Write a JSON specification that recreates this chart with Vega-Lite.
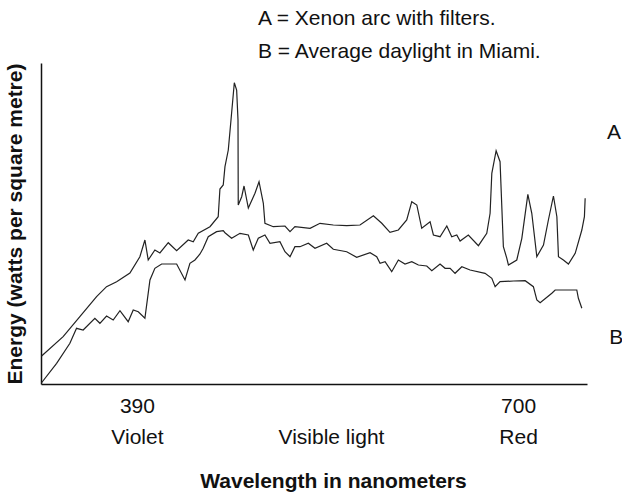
{
  "$schema": "https://vega.github.io/schema/vega-lite/v6.json",
  "width": 546,
  "height": 321,
  "autosize": "none",
  "padding": {"left": 41, "top": 63, "right": 35, "bottom": 112},
  "background": "white",
  "config": {"view": {"stroke": null}, "font": "Liberation Sans"},
  "title": {
    "text": ["A = Xenon arc with filters.", "B = Average daylight in Miami."],
    "anchor": "start",
    "frame": "group",
    "dx": 217,
    "offset": 1,
    "fontSize": 21,
    "fontWeight": "normal",
    "lineHeight": 33,
    "color": "#111"
  },
  "datasets": {
    "curves": [
      {"s": "A", "nm": 312.5, "e": 28},
      {"s": "A", "nm": 330.0, "e": 47.3},
      {"s": "A", "nm": 343.6, "e": 67.3},
      {"s": "A", "nm": 357.2, "e": 87.3},
      {"s": "A", "nm": 365.3, "e": 97.3},
      {"s": "A", "nm": 373.5, "e": 102.3},
      {"s": "A", "nm": 384.3, "e": 111},
      {"s": "A", "nm": 392.4, "e": 127.3},
      {"s": "A", "nm": 396.5, "e": 144},
      {"s": "A", "nm": 399.2, "e": 124},
      {"s": "A", "nm": 404.6, "e": 134},
      {"s": "A", "nm": 408.7, "e": 131},
      {"s": "A", "nm": 415.5, "e": 141.3},
      {"s": "A", "nm": 422.3, "e": 133.3},
      {"s": "A", "nm": 431.7, "e": 144},
      {"s": "A", "nm": 435.8, "e": 142.3},
      {"s": "A", "nm": 439.9, "e": 150.7},
      {"s": "A", "nm": 449.4, "e": 157.3},
      {"s": "A", "nm": 456.1, "e": 167.3},
      {"s": "A", "nm": 457.5, "e": 195},
      {"s": "A", "nm": 460.2, "e": 199},
      {"s": "A", "nm": 461.6, "e": 217.3},
      {"s": "A", "nm": 464.3, "e": 234},
      {"s": "A", "nm": 466.5, "e": 264},
      {"s": "A", "nm": 469.2, "e": 301.3},
      {"s": "A", "nm": 471.1, "e": 294},
      {"s": "A", "nm": 472.2, "e": 264},
      {"s": "A", "nm": 472.4, "e": 179},
      {"s": "A", "nm": 475.2, "e": 187.3},
      {"s": "A", "nm": 477.1, "e": 198},
      {"s": "A", "nm": 480.6, "e": 176},
      {"s": "A", "nm": 486.0, "e": 190.7},
      {"s": "A", "nm": 489.3, "e": 202.3},
      {"s": "A", "nm": 492.8, "e": 180.7},
      {"s": "A", "nm": 494.1, "e": 160.7},
      {"s": "A", "nm": 500.9, "e": 157.3},
      {"s": "A", "nm": 510.4, "e": 158},
      {"s": "A", "nm": 514.5, "e": 152.3},
      {"s": "A", "nm": 518.5, "e": 157.3},
      {"s": "A", "nm": 530.8, "e": 155.7},
      {"s": "A", "nm": 538.9, "e": 160.7},
      {"s": "A", "nm": 549.7, "e": 159},
      {"s": "A", "nm": 560.6, "e": 158.3},
      {"s": "A", "nm": 571.4, "e": 159},
      {"s": "A", "nm": 582.3, "e": 168.3},
      {"s": "A", "nm": 589.1, "e": 160.7},
      {"s": "A", "nm": 595.8, "e": 151.7},
      {"s": "A", "nm": 602.6, "e": 154},
      {"s": "A", "nm": 609.4, "e": 164},
      {"s": "A", "nm": 613.5, "e": 182.3},
      {"s": "A", "nm": 617.6, "e": 179},
      {"s": "A", "nm": 621.6, "e": 155.7},
      {"s": "A", "nm": 628.4, "e": 162.3},
      {"s": "A", "nm": 631.1, "e": 149},
      {"s": "A", "nm": 636.5, "e": 147.3},
      {"s": "A", "nm": 642.0, "e": 158},
      {"s": "A", "nm": 646.0, "e": 147.3},
      {"s": "A", "nm": 650.1, "e": 149},
      {"s": "A", "nm": 652.8, "e": 143},
      {"s": "A", "nm": 659.5, "e": 149},
      {"s": "A", "nm": 667.7, "e": 138.3},
      {"s": "A", "nm": 674.5, "e": 150.7},
      {"s": "A", "nm": 677.2, "e": 170.7},
      {"s": "A", "nm": 678.6, "e": 210.7},
      {"s": "A", "nm": 682.1, "e": 233.3},
      {"s": "A", "nm": 685.3, "e": 222.3},
      {"s": "A", "nm": 688.0, "e": 137.3},
      {"s": "A", "nm": 690.8, "e": 125.7},
      {"s": "A", "nm": 692.1, "e": 119},
      {"s": "A", "nm": 698.9, "e": 124},
      {"s": "A", "nm": 703.0, "e": 145.7},
      {"s": "A", "nm": 707.9, "e": 189.7},
      {"s": "A", "nm": 711.1, "e": 170.7},
      {"s": "A", "nm": 715.2, "e": 127.3},
      {"s": "A", "nm": 720.6, "e": 139},
      {"s": "A", "nm": 724.6, "e": 164},
      {"s": "A", "nm": 728.7, "e": 188},
      {"s": "A", "nm": 731.5, "e": 167.3},
      {"s": "A", "nm": 732.8, "e": 127.3},
      {"s": "A", "nm": 736.8, "e": 124},
      {"s": "A", "nm": 740.9, "e": 120},
      {"s": "A", "nm": 746.4, "e": 130.7},
      {"s": "A", "nm": 751.8, "e": 154},
      {"s": "A", "nm": 753.9, "e": 167.3},
      {"s": "A", "nm": 754.5, "e": 185.7},
      {"s": "B", "nm": 312.3, "e": 1},
      {"s": "B", "nm": 324.7, "e": 20.7},
      {"s": "B", "nm": 335.5, "e": 40.7},
      {"s": "B", "nm": 340.9, "e": 55.7},
      {"s": "B", "nm": 346.3, "e": 54},
      {"s": "B", "nm": 355.8, "e": 65.7},
      {"s": "B", "nm": 359.9, "e": 60.7},
      {"s": "B", "nm": 365.3, "e": 68},
      {"s": "B", "nm": 370.7, "e": 64},
      {"s": "B", "nm": 376.2, "e": 73.3},
      {"s": "B", "nm": 382.9, "e": 62.3},
      {"s": "B", "nm": 387.0, "e": 74},
      {"s": "B", "nm": 391.1, "e": 72.3},
      {"s": "B", "nm": 396.5, "e": 65.7},
      {"s": "B", "nm": 400.6, "e": 104},
      {"s": "B", "nm": 404.6, "e": 115.7},
      {"s": "B", "nm": 410.1, "e": 120},
      {"s": "B", "nm": 422.3, "e": 120},
      {"s": "B", "nm": 429.1, "e": 104},
      {"s": "B", "nm": 433.1, "e": 120.7},
      {"s": "B", "nm": 437.2, "e": 124},
      {"s": "B", "nm": 441.3, "e": 130},
      {"s": "B", "nm": 443.9, "e": 135.7},
      {"s": "B", "nm": 448.0, "e": 147.3},
      {"s": "B", "nm": 454.8, "e": 152.3},
      {"s": "B", "nm": 460.2, "e": 153.3},
      {"s": "B", "nm": 461.6, "e": 151.3},
      {"s": "B", "nm": 467.0, "e": 145.7},
      {"s": "B", "nm": 473.8, "e": 150.7},
      {"s": "B", "nm": 480.6, "e": 149},
      {"s": "B", "nm": 484.6, "e": 134},
      {"s": "B", "nm": 488.7, "e": 145.7},
      {"s": "B", "nm": 494.1, "e": 149},
      {"s": "B", "nm": 498.2, "e": 140.7},
      {"s": "B", "nm": 506.3, "e": 142.3},
      {"s": "B", "nm": 510.4, "e": 132.3},
      {"s": "B", "nm": 514.5, "e": 127.3},
      {"s": "B", "nm": 518.5, "e": 137.3},
      {"s": "B", "nm": 522.6, "e": 137.3},
      {"s": "B", "nm": 529.4, "e": 140.7},
      {"s": "B", "nm": 534.8, "e": 135.7},
      {"s": "B", "nm": 544.3, "e": 140.7},
      {"s": "B", "nm": 549.7, "e": 134.7},
      {"s": "B", "nm": 560.6, "e": 132.3},
      {"s": "B", "nm": 568.7, "e": 126.7},
      {"s": "B", "nm": 579.6, "e": 131.3},
      {"s": "B", "nm": 585.0, "e": 127.3},
      {"s": "B", "nm": 587.7, "e": 120.7},
      {"s": "B", "nm": 591.8, "e": 122.3},
      {"s": "B", "nm": 597.2, "e": 112.3},
      {"s": "B", "nm": 602.6, "e": 124},
      {"s": "B", "nm": 608.0, "e": 120},
      {"s": "B", "nm": 613.5, "e": 122.3},
      {"s": "B", "nm": 618.9, "e": 119},
      {"s": "B", "nm": 625.7, "e": 118},
      {"s": "B", "nm": 629.8, "e": 113.3},
      {"s": "B", "nm": 636.5, "e": 120},
      {"s": "B", "nm": 640.6, "e": 115.7},
      {"s": "B", "nm": 644.7, "e": 115.7},
      {"s": "B", "nm": 648.7, "e": 110.7},
      {"s": "B", "nm": 654.2, "e": 117.3},
      {"s": "B", "nm": 660.9, "e": 114},
      {"s": "B", "nm": 673.1, "e": 110.7},
      {"s": "B", "nm": 678.6, "e": 105.7},
      {"s": "B", "nm": 681.3, "e": 97.3},
      {"s": "B", "nm": 685.3, "e": 102.3},
      {"s": "B", "nm": 696.2, "e": 103},
      {"s": "B", "nm": 705.7, "e": 103.3},
      {"s": "B", "nm": 712.4, "e": 97.3},
      {"s": "B", "nm": 715.2, "e": 84},
      {"s": "B", "nm": 717.9, "e": 81.3},
      {"s": "B", "nm": 727.4, "e": 90.7},
      {"s": "B", "nm": 730.1, "e": 94},
      {"s": "B", "nm": 739.6, "e": 94},
      {"s": "B", "nm": 747.7, "e": 94},
      {"s": "B", "nm": 749.0, "e": 85.7},
      {"s": "B", "nm": 751.8, "e": 75.7}
    ],
    "tags": [
      {"s": "A", "nm": 778, "e": 251},
      {"s": "B", "nm": 779.7, "e": 46}
    ]
  },
  "encoding": {
    "x": {
      "field": "nm",
      "type": "quantitative",
      "scale": {"domain": [312, 756], "nice": false, "zero": false},
      "axis": {
        "title": "Wavelength in nanometers",
        "titleFontSize": 21,
        "titleFontWeight": "bold",
        "titleColor": "#111",
        "titlePadding": 23,
        "titleX": 292,
        "titleAlign": "center",
        "values": [390, 547.8, 700],
        "labelExpr": "datum.value == 390 ? ['390', 'Violet'] : datum.value == 700 ? ['700', 'Red'] : ['', 'Visible light']",
        "labelFontSize": 21,
        "labelColor": "#111",
        "labelPadding": 11,
        "labelLineHeight": 31,
        "labelFlush": false,
        "labelOverlap": false,
        "ticks": false,
        "grid": false,
        "domainColor": "#111",
        "domainWidth": 1.5
      }
    },
    "y": {
      "field": "e",
      "type": "quantitative",
      "scale": {"domain": [0, 321], "nice": false, "zero": false},
      "axis": {
        "title": "Energy (watts per square metre)",
        "titleFontSize": 21,
        "titleFontWeight": "bold",
        "titleColor": "#111",
        "titlePadding": 16,
        "labels": false,
        "ticks": false,
        "grid": false,
        "domainColor": "#111",
        "domainWidth": 1.5
      }
    }
  },
  "layer": [
    {
      "data": {"name": "curves"},
      "mark": {"type": "line", "color": "#222", "strokeWidth": 1.2},
      "encoding": {"detail": {"field": "s"}}
    },
    {
      "data": {"name": "tags"},
      "mark": {"type": "text", "fontSize": 21, "color": "#111", "align": "center", "baseline": "middle"},
      "encoding": {"text": {"field": "s"}}
    }
  ]
}
